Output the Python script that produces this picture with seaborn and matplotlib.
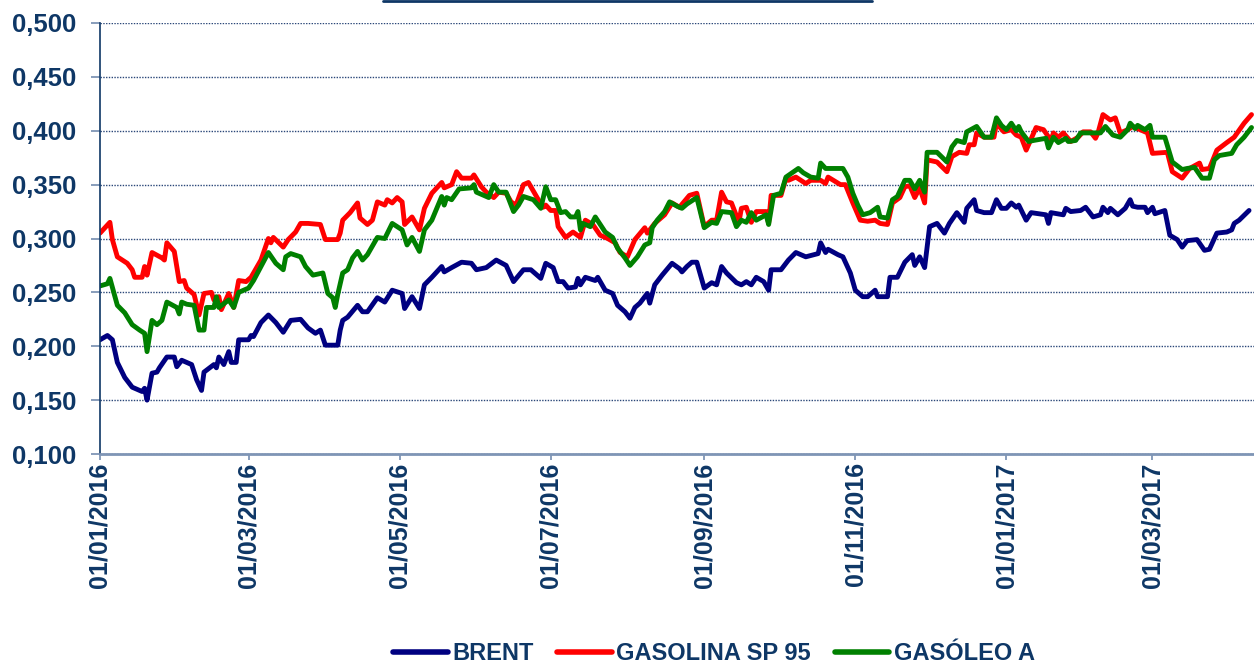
import pandas as pd
import matplotlib
matplotlib.use("Agg")
import matplotlib.pyplot as plt
import matplotlib.dates as mdates
from matplotlib.lines import Line2D
from matplotlib.ticker import FuncFormatter, MultipleLocator
import seaborn as sns

# Days counted from 01/01/2016 and prices
start_date = "2016-01-01"

brent_days = [0, 3, 5, 7, 10, 13, 17, 18, 19, 21,
              23, 24, 27, 30, 31, 33, 37, 39, 41, 42,
              46, 47, 48, 50, 52, 53, 55, 56, 60, 61,
              62, 65, 68, 71, 74, 77, 81, 84, 87, 89,
              91, 96, 97, 98, 100, 104, 106, 108, 112, 115,
              118, 122, 123, 126, 129, 131, 134, 138, 139, 142,
              146, 150, 152, 156, 160, 164, 167, 171, 174, 178,
              180, 183, 185, 187, 189, 192, 193, 194, 196, 200,
              201, 204, 207, 209, 212, 214, 216, 218, 221, 222,
              224, 227, 231, 234, 235, 237, 239, 241, 244, 247,
              249, 251, 253, 257, 259, 261, 263, 265, 268, 270,
              271, 275, 278, 281, 285, 290, 291, 293, 294, 298,
              300, 303, 305, 308, 310, 313, 314, 318, 319, 322,
              325, 328, 329, 331, 333, 335, 338, 341, 343, 346,
              349, 350, 353, 354, 357, 360, 362, 364, 366, 368,
              370, 371, 374, 376, 382, 383, 384, 389, 390, 392,
              396, 398, 401, 404, 405, 407, 408, 411, 414, 416,
              417, 419, 422, 423, 425, 426, 430, 432, 435, 437,
              439, 443, 446, 448, 451, 455, 457, 458, 460, 464]
brent_vals = [0.206, 0.210, 0.206, 0.185, 0.171, 0.162, 0.158, 0.161, 0.150, 0.175,
              0.176, 0.180, 0.190, 0.190, 0.181, 0.187, 0.183, 0.169, 0.159, 0.176,
              0.183, 0.180, 0.190, 0.183, 0.195, 0.185, 0.185, 0.206, 0.206, 0.210,
              0.209, 0.222, 0.229, 0.222, 0.213, 0.224, 0.225, 0.217, 0.212, 0.215,
              0.201, 0.201, 0.215, 0.224, 0.227, 0.238, 0.232, 0.232, 0.245, 0.241,
              0.252, 0.249, 0.235, 0.246, 0.235, 0.257, 0.264, 0.274, 0.269, 0.273,
              0.278, 0.277, 0.271, 0.273, 0.280, 0.275, 0.260, 0.271, 0.271, 0.263,
              0.277, 0.273, 0.260, 0.260, 0.254, 0.255, 0.263, 0.257, 0.264, 0.261,
              0.264, 0.252, 0.249, 0.238, 0.232, 0.226, 0.236, 0.240, 0.249, 0.240,
              0.257, 0.266, 0.277, 0.272, 0.269, 0.274, 0.278, 0.278, 0.254, 0.259,
              0.257, 0.274, 0.268, 0.259, 0.257, 0.260, 0.257, 0.264, 0.260, 0.252,
              0.271, 0.271, 0.280, 0.287, 0.283, 0.286, 0.296, 0.287, 0.290, 0.285,
              0.283, 0.268, 0.252, 0.246, 0.246, 0.252, 0.246, 0.246, 0.264, 0.264,
              0.278, 0.285, 0.275, 0.283, 0.273, 0.311, 0.314, 0.305, 0.314, 0.324,
              0.315, 0.328, 0.336, 0.326, 0.324, 0.324, 0.336, 0.328, 0.328, 0.333,
              0.329, 0.331, 0.317, 0.324, 0.322, 0.314, 0.324, 0.322, 0.328, 0.325,
              0.326, 0.329, 0.320, 0.322, 0.329, 0.324, 0.328, 0.322, 0.328, 0.336,
              0.330, 0.329, 0.329, 0.324, 0.329, 0.323, 0.326, 0.303, 0.299, 0.292,
              0.298, 0.299, 0.289, 0.290, 0.305, 0.306, 0.308, 0.314, 0.317, 0.326]

gasolina_days = [0, 4, 5, 7, 11, 13, 14, 17, 18, 19,
                 21, 25, 26, 27, 30, 32, 34, 35, 38, 40,
                 42, 45, 46, 48, 49, 52, 54, 56, 59, 61,
                 65, 68, 69, 70, 74, 76, 79, 81, 84, 89,
                 91, 96, 97, 98, 101, 104, 105, 108, 110, 112,
                 115, 116, 118, 120, 122, 123, 126, 129, 131, 134,
                 138, 139, 142, 144, 146, 150, 151, 154, 156, 159,
                 161, 164, 166, 168, 171, 173, 177, 179, 180, 182,
                 184, 185, 188, 191, 194, 196, 199, 202, 205, 208,
                 210, 213, 216, 220, 221, 224, 228, 231, 234, 238,
                 241, 244, 247, 249, 251, 253, 255, 258, 259, 261,
                 263, 265, 269, 270, 271, 275, 277, 278, 281, 285,
                 287, 291, 293, 294, 299, 301, 304, 307, 310, 313,
                 315, 318, 320, 323, 325, 327, 329, 331, 333, 334,
                 338, 342, 344, 347, 350, 351, 353, 354, 357, 361,
                 362, 365, 368, 370, 372, 374, 378, 381, 384, 385,
                 387, 389, 392, 395, 397, 400, 402, 403, 405, 408,
                 410, 412, 415, 417, 420, 423, 425, 431, 433, 437,
                 440, 444, 445, 448, 451, 455, 458, 462, 465]
gasolina_vals = [0.305, 0.315, 0.299, 0.283, 0.277, 0.271, 0.264, 0.264, 0.274, 0.266,
                 0.287, 0.282, 0.280, 0.296, 0.288, 0.260, 0.261, 0.254, 0.248, 0.229,
                 0.249, 0.250, 0.243, 0.246, 0.234, 0.249, 0.236, 0.261, 0.260, 0.264,
                 0.280, 0.300, 0.296, 0.301, 0.292, 0.299, 0.306, 0.314, 0.314, 0.313,
                 0.299, 0.299, 0.305, 0.317, 0.324, 0.333, 0.319, 0.313, 0.317, 0.334,
                 0.331, 0.336, 0.333, 0.338, 0.334, 0.313, 0.320, 0.308, 0.328, 0.342,
                 0.352, 0.347, 0.350, 0.362, 0.356, 0.356, 0.359, 0.348, 0.343, 0.338,
                 0.343, 0.342, 0.334, 0.331, 0.350, 0.352, 0.336, 0.329, 0.331, 0.326,
                 0.326, 0.311, 0.301, 0.306, 0.301, 0.317, 0.313, 0.303, 0.300, 0.296,
                 0.287, 0.283, 0.299, 0.310, 0.305, 0.314, 0.322, 0.333, 0.329, 0.340,
                 0.342, 0.311, 0.317, 0.317, 0.343, 0.334, 0.333, 0.315, 0.328, 0.329,
                 0.315, 0.325, 0.325, 0.314, 0.340, 0.340, 0.356, 0.354, 0.357, 0.351,
                 0.354, 0.354, 0.351, 0.357, 0.350, 0.350, 0.333, 0.317, 0.316, 0.317,
                 0.314, 0.313, 0.333, 0.338, 0.348, 0.349, 0.338, 0.347, 0.333, 0.373,
                 0.371, 0.362, 0.376, 0.380, 0.379, 0.387, 0.387, 0.398, 0.394, 0.394,
                 0.407, 0.399, 0.401, 0.396, 0.394, 0.382, 0.403, 0.401, 0.391, 0.398,
                 0.394, 0.398, 0.390, 0.394, 0.399, 0.399, 0.393, 0.398, 0.415, 0.410,
                 0.412, 0.398, 0.401, 0.404, 0.401, 0.398, 0.379, 0.380, 0.362, 0.356,
                 0.365, 0.370, 0.364, 0.365, 0.382, 0.389, 0.394, 0.407, 0.415]

gasoleo_days = [0, 3, 4, 7, 10, 13, 16, 18, 19, 21,
                23, 25, 27, 31, 32, 33, 35, 38, 40, 42,
                43, 46, 47, 48, 52, 54, 56, 60, 62, 65,
                68, 71, 74, 75, 77, 81, 83, 86, 90, 92,
                94, 95, 96, 98, 100, 102, 104, 106, 108, 112,
                115, 118, 120, 122, 124, 126, 129, 131, 134, 138,
                139, 140, 142, 145, 150, 151, 152, 155, 157, 159,
                161, 164, 167, 169, 171, 175, 178, 180, 182, 184,
                186, 188, 190, 192, 193, 194, 195, 198, 200, 204,
                207, 209, 212, 214, 217, 220, 222, 223, 225, 228,
                230, 233, 235, 237, 241, 244, 247, 249, 251, 255,
                257, 259, 261, 263, 265, 269, 270, 272, 275, 277,
                282, 284, 287, 290, 291, 293, 298, 300, 302, 304,
                306, 308, 311, 314, 315, 318, 320, 322, 325, 327,
                329, 331, 333, 334, 338, 342, 344, 346, 349, 350,
                354, 357, 360, 362, 364, 366, 368, 370, 371, 372,
                375, 377, 382, 383, 385, 387, 390, 391, 394, 396,
                401, 404, 406, 409, 412, 415, 416, 418, 419, 422,
                424, 425, 430, 433, 437, 439, 442, 445, 448, 450,
                452, 457, 459, 462, 465]
gasoleo_vals = [0.256, 0.258, 0.263, 0.238, 0.231, 0.220, 0.215, 0.212, 0.195, 0.224,
                0.220, 0.224, 0.241, 0.236, 0.230, 0.241, 0.239, 0.238, 0.215, 0.215,
                0.236, 0.236, 0.246, 0.236, 0.243, 0.236, 0.250, 0.254, 0.261, 0.274,
                0.287, 0.277, 0.271, 0.283, 0.286, 0.283, 0.274, 0.266, 0.268, 0.249,
                0.245, 0.236, 0.248, 0.268, 0.271, 0.282, 0.288, 0.280, 0.285, 0.301,
                0.300, 0.314, 0.311, 0.308, 0.294, 0.301, 0.288, 0.308, 0.317, 0.339,
                0.331, 0.338, 0.336, 0.346, 0.347, 0.350, 0.343, 0.340, 0.338, 0.350,
                0.343, 0.343, 0.325, 0.331, 0.339, 0.336, 0.328, 0.348, 0.336, 0.336,
                0.324, 0.325, 0.320, 0.320, 0.325, 0.308, 0.314, 0.311, 0.320, 0.306,
                0.301, 0.291, 0.282, 0.275, 0.283, 0.294, 0.296, 0.310, 0.317, 0.325,
                0.334, 0.330, 0.328, 0.332, 0.338, 0.310, 0.315, 0.314, 0.325, 0.324,
                0.311, 0.317, 0.315, 0.324, 0.317, 0.322, 0.313, 0.340, 0.342, 0.357,
                0.365, 0.361, 0.357, 0.356, 0.370, 0.365, 0.365, 0.365, 0.357, 0.342,
                0.331, 0.322, 0.324, 0.329, 0.320, 0.319, 0.336, 0.339, 0.354, 0.354,
                0.346, 0.354, 0.343, 0.380, 0.380, 0.371, 0.385, 0.391, 0.389, 0.399,
                0.404, 0.394, 0.394, 0.412, 0.405, 0.401, 0.407, 0.400, 0.404, 0.399,
                0.390, 0.391, 0.393, 0.384, 0.394, 0.389, 0.393, 0.390, 0.391, 0.398,
                0.398, 0.398, 0.404, 0.396, 0.394, 0.401, 0.407, 0.402, 0.405, 0.401,
                0.405, 0.394, 0.394, 0.371, 0.364, 0.365, 0.366, 0.356, 0.356, 0.373,
                0.377, 0.379, 0.387, 0.394, 0.403]

series_names = ["BRENT", "GASOLINA SP 95", "GASÓLEO A"]
series_colors = ["#000080", "#FF0000", "#008000"]


def build_frame():
    """Long table with one row per (date, series) point."""
    parts = []
    for name, days, vals in zip(series_names,
                                [brent_days, gasolina_days, gasoleo_days],
                                [brent_vals, gasolina_vals, gasoleo_vals]):
        dates = pd.Timestamp(start_date) + pd.to_timedelta(days, unit="D")
        parts.append(pd.DataFrame({"fecha": dates, "valor": vals, "serie": name}))
    return pd.concat(parts, ignore_index=True)


def main():
    df = build_frame()
    navy = "#0E3766"
    axis_grey = "#7F95B5"

    sns.set_style("white")
    plt.rcParams["font.family"] = ["Liberation Sans", "DejaVu Sans"]
    plt.rcParams["font.weight"] = "bold"

    fig = plt.figure(figsize=(12.54, 6.63), dpi=100)
    ax = fig.add_axes([100 / 1254, 1 - 454 / 663, 1154 / 1254, 431 / 663])

    sns.lineplot(data=df, x="fecha", y="valor", hue="serie",
                 hue_order=series_names,
                 palette=dict(zip(series_names, series_colors)),
                 estimator=None, linewidth=3.5, ax=ax)

    # axes limits and ticks
    ax.set_ylim(0.1, 0.5)
    ax.set_xlim(pd.Timestamp(start_date),
                pd.Timestamp(start_date) + pd.Timedelta(days=466))
    ax.yaxis.set_major_locator(MultipleLocator(0.05))
    ax.yaxis.set_major_formatter(
        FuncFormatter(lambda v, p: f"{v:.3f}".replace(".", ",")))
    ax.xaxis.set_major_locator(mdates.MonthLocator(bymonth=[1, 3, 5, 7, 9, 11]))
    ax.xaxis.set_major_formatter(mdates.DateFormatter("%d/%m/%Y"))
    ax.set_xlabel("")
    ax.set_ylabel("")

    ax.tick_params(axis="y", left=True, length=6.5, width=1.3, color=axis_grey,
                   pad=10.5, labelsize=18.5, labelcolor=navy)
    ax.tick_params(axis="x", bottom=True, length=4.5, width=1.3, color=axis_grey,
                   pad=1.5, labelsize=18, labelcolor=navy, labelrotation=90)

    ax.grid(axis="y", color="#2A4778", linestyle=(0, (1, 1)), linewidth=1.0)
    ax.grid(axis="x", visible=False)

    for side in ["top", "right"]:
        ax.spines[side].set_visible(False)
    ax.spines["left"].set_color(navy)
    ax.spines["left"].set_linewidth(1.2)
    ax.spines["bottom"].set_color(axis_grey)
    ax.spines["bottom"].set_linewidth(2)

    # legend below the axis labels
    sns.move_legend(ax, "center", bbox_to_anchor=(0.532, -0.463), ncol=3,
                    frameon=False, title=None, fontsize=17,
                    handlelength=2.3, handletextpad=0.2, columnspacing=1.0)
    for text in ax.get_legend().get_texts():
        text.set_color(navy)
        text.set_fontweight("bold")
    for line in ax.get_legend().get_lines():
        line.set_linewidth(4)

    # underline of the title, whose text lies above the visible area
    fig.add_artist(Line2D([383 / 1254, 872 / 1254], [1 - 1.2 / 663] * 2,
                          color=navy, linewidth=2))

    fig.savefig("out.png", dpi=100)


if __name__ == "__main__":
    main()
